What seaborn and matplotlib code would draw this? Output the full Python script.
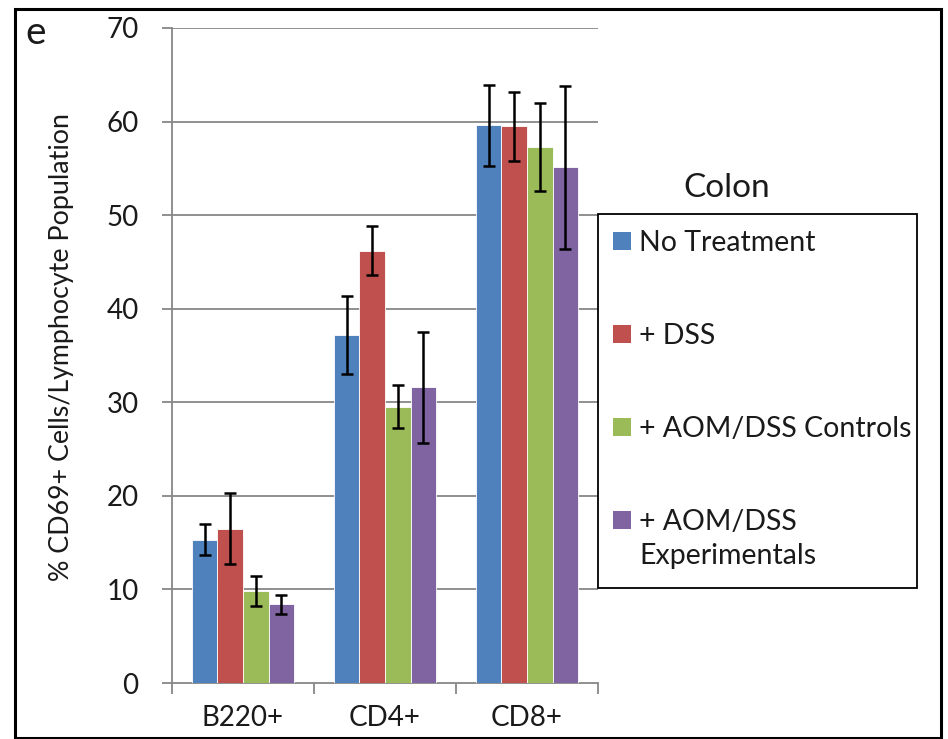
import numpy as np
import pandas as pd
import matplotlib
matplotlib.use("Agg")
import matplotlib.pyplot as plt
from matplotlib.patches import Rectangle
from matplotlib.container import BarContainer
import seaborn as sns

categories = ["B220+", "CD4+", "CD8+"]
groups = ["No Treatment", "+ DSS", "+ AOM/DSS Controls", "+ AOM/DSS\nExperimentals"]
no_treatment = [15.3, 37.2, 59.6]
dss = [16.5, 46.2, 59.5]
aom_controls = [9.8, 29.5, 57.3]
aom_experimentals = [8.4, 31.6, 55.1]
err_no_treatment = [1.65, 4.15, 4.35]
err_dss = [3.8, 2.65, 3.7]
err_aom_controls = [1.6, 2.3, 4.7]
err_aom_experimentals = [1.0, 5.9, 8.75]
colors = ["#4F81BD", "#C0504D", "#9BBB59", "#8064A2"]
yticks = [0, 10, 20, 30, 40, 50, 60, 70]

means = [no_treatment, dss, aom_controls, aom_experimentals]
errs = [err_no_treatment, err_dss, err_aom_controls, err_aom_experimentals]

rows = []
for g, vals in zip(groups, means):
    for c, v in zip(categories, vals):
        rows.append({"cell": c, "group": g, "value": v})
df = pd.DataFrame(rows)

sns.set_theme(style="white")
plt.rcParams["font.family"] = ["Lato", "DejaVu Sans"]

W, H = 948, 739
fig = plt.figure(figsize=(W / 100, H / 100), dpi=100)
ax = fig.add_axes([172 / W, 1 - 683 / H, (598 - 172) / W, (683 - 28) / H])

sns.barplot(data=df, x="cell", y="value", hue="group", hue_order=groups,
            order=categories, palette=colors, width=0.72, gap=0,
            errorbar=None, saturation=1, edgecolor="white", linewidth=0.6,
            legend=False, ax=ax, zorder=3)

bar_conts = [c for c in list(ax.containers) if isinstance(c, BarContainer)]
for i, cont in enumerate(bar_conts):
    for j, bar in enumerate(cont):
        x = bar.get_x() + bar.get_width() / 2
        ax.errorbar(x, means[i][j], yerr=errs[i][j], fmt="none", ecolor="black",
                    elinewidth=1.8, capsize=4.3, capthick=1.8, zorder=4)

grey = "#878787"
ax.set_xlim(-0.5, 2.5)
ax.set_ylim(0, 70)
ax.set_yticks(yticks)
ax.set_yticklabels([str(t) for t in yticks])
for t in yticks[1:]:
    ax.axhline(t, color=grey, lw=1.3, zorder=1)
for s in ["top", "right"]:
    ax.spines[s].set_visible(False)
for s in ["left", "bottom"]:
    ax.spines[s].set_color(grey)
    ax.spines[s].set_linewidth(1.3)
ax.set_xlabel("")
ax.set_ylabel("")
ax.tick_params(axis="y", direction="out", length=7, width=1.3, color=grey,
               labelsize=20, labelcolor="#1a1a1a", pad=17, left=True)
ax.set_xticks([-0.5, 0.5, 1.5, 2.5], minor=True)
ax.tick_params(axis="x", which="minor", direction="out", length=8, width=1.3,
               color=grey, bottom=True)
ax.tick_params(axis="x", which="major", length=0, labelsize=20,
               labelcolor="#1a1a1a", pad=16)

fig.text(62 / W, 1 - 347 / H, "% CD69+ Cells/Lymphocyte Population", rotation=90,
         ha="center", va="center", fontsize=19.3, color="#1a1a1a")
fig.text(25 / W, 1 - 33 / H, "e", ha="left", va="center", fontsize=28, color="#1a1a1a")

# legend
fig.text(727 / W, 1 - 188 / H, "Colon", ha="center", va="center", fontsize=24,
         color="#1a1a1a")
fig.patches.append(Rectangle((598 / W, 1 - 588 / H), (917 - 598) / W, (588 - 214) / H,
                             transform=fig.transFigure, fill=False, edgecolor="black",
                             lw=1.3))
ys = [241, 334, 427, 520]
for g, c, y in zip(groups, colors, ys):
    fig.patches.append(Rectangle((613 / W, 1 - (y + 9) / H), 18 / W, 18 / H,
                                 transform=fig.transFigure, facecolor=c,
                                 edgecolor="none"))
    fig.text(639 / W, 1 - (y - 11) / H, g, ha="left", va="top", fontsize=20.5,
             color="#1a1a1a", linespacing=1.4)

fig.patches.append(Rectangle((15 / W, 1 - 738 / H), (941 - 15) / W, (738 - 9) / H,
                             transform=fig.transFigure, fill=False, edgecolor="black",
                             lw=2.2))

fig.savefig("out.png", dpi=100)
